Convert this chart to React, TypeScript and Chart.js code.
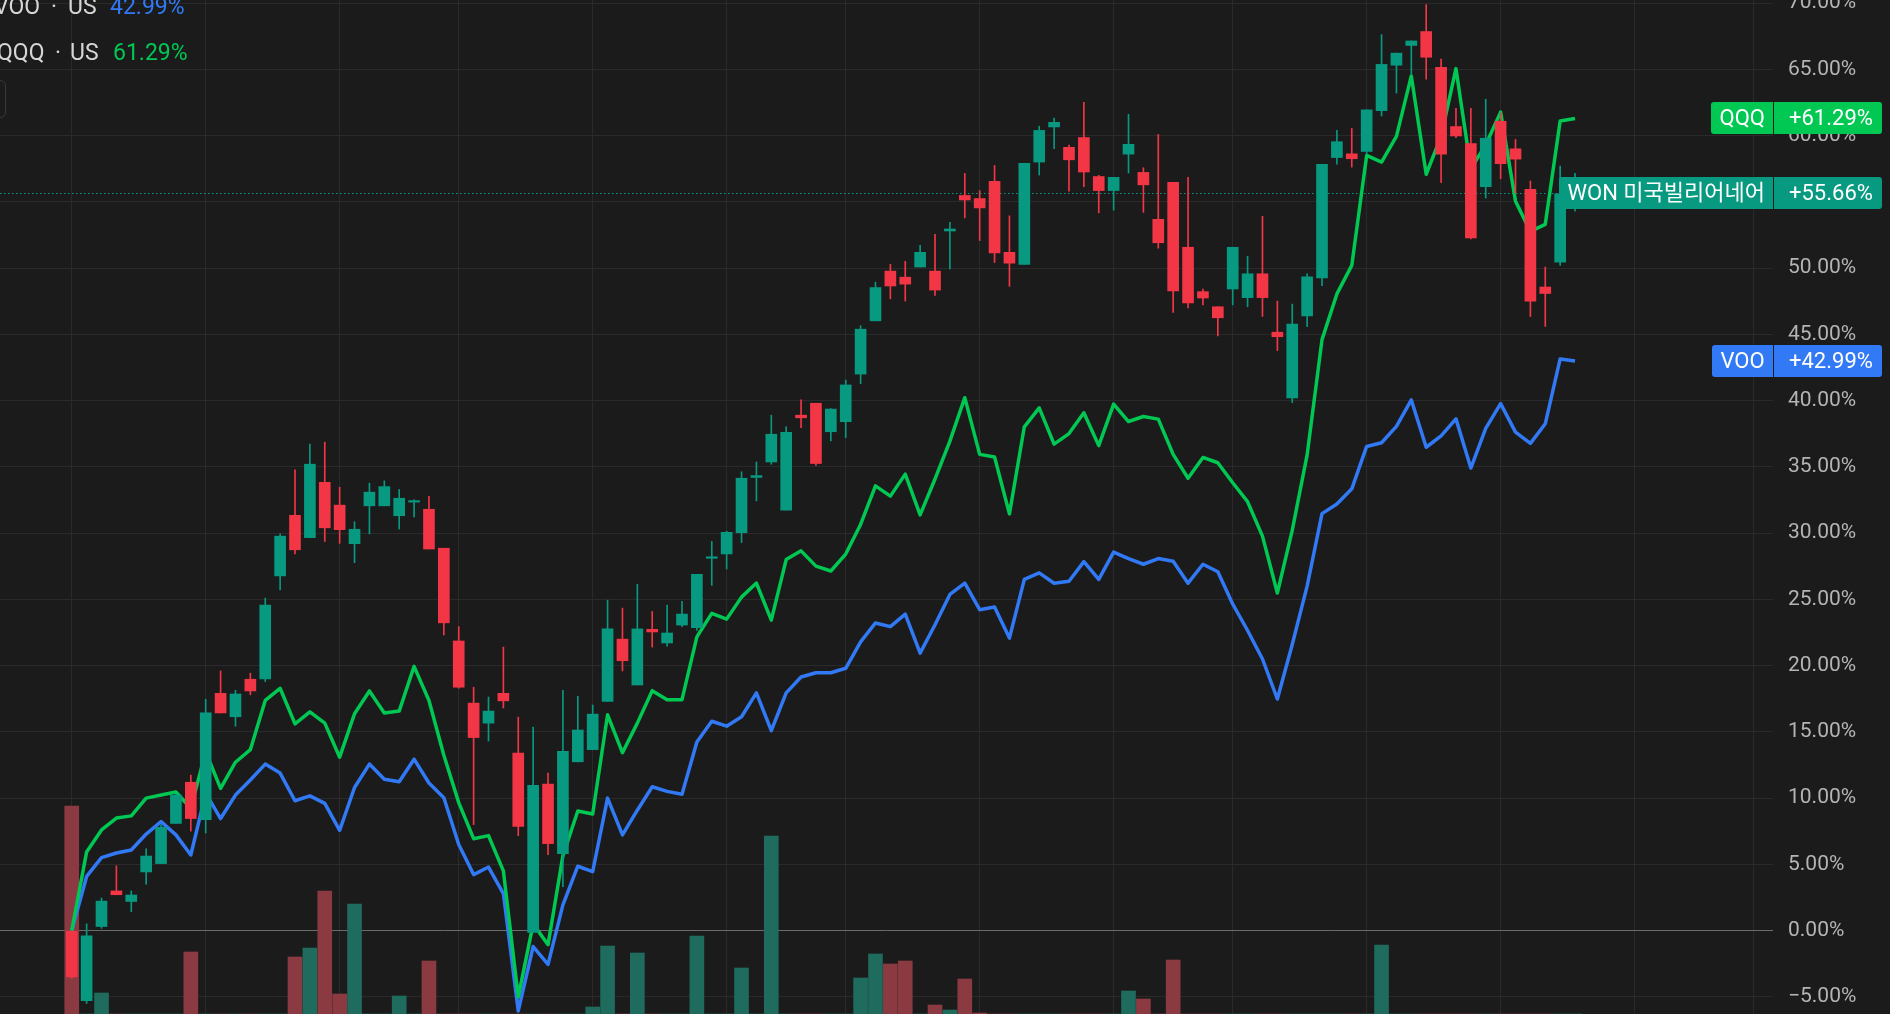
import React, { useEffect, useRef } from 'react';
import { Chart, registerables } from 'chart.js';

Chart.register(...registerables);

// ---------------- data (percent change, weekly bars) ----------------
const candleOpen = [
  0, -5.29, 0.31, 3.0, 2.2, 4.43, 5.06, 8.09, 11.2, 8.37,
  17.91, 16.14, 18.97, 19.0, 26.77, 31.34, 29.66, 33.83, 32.11, 29.2,
  32.06, 32.06, 31.31, 32.34, 31.8, 28.86, 21.86, 17.17, 15.66, 17.91,
  13.4, -0.14, 11.06, 5.8, 12.74, 13.66, 17.29, 22.0, 18.54, 22.74,
  21.71, 23.06, 22.86, 28.1, 28.43, 30.03, 34.2, 35.37, 31.74, 38.9,
  39.8, 37.65, 38.41, 42.0, 46.02, 49.77, 49.31, 50.08, 49.77, 52.8,
  55.48, 55.25, 56.54, 51.19, 50.28, 58.0, 60.65, 59.11, 59.85, 56.91,
  55.85, 58.6, 57.22, 53.68, 56.48, 51.57, 48.22, 47.08, 48.42, 47.77,
  49.57, 45.16, 40.2, 46.39, 49.25, 58.34, 58.62, 58.8, 61.88, 65.31,
  66.8, 67.85, 65.14, 60.68, 59.4, 56.14, 61.08, 59.0, 55.94, 48.57,
  50.45, 55.6,
];
const candleHigh = [
  0, 0.51, 2.46, 4.89, 3.0, 6.17, 8.0, 10.3, 11.74, 17.46,
  19.6, 18.14, 19.43, 25.09, 29.94, 34.77, 36.71, 36.86, 33.46, 30.86,
  33.77, 33.94, 33.29, 32.51, 32.77, 28.86, 22.94, 18.37, 17.63, 21.4,
  16.11, 15.37, 11.89, 18.14, 17.69, 17.03, 24.94, 24.34, 26.14, 24.09,
  24.57, 24.86, 26.89, 29.37, 30.14, 34.63, 35.37, 38.9, 38.03, 40.05,
  39.8, 39.4, 41.55, 45.65, 48.94, 50.28, 50.51, 51.71, 52.54, 53.45,
  57.14, 55.85, 57.74, 53.94, 57.91, 60.71, 61.31, 59.28, 62.5, 57.0,
  56.85, 61.6, 57.57, 60.08, 56.48, 56.85, 48.42, 47.08, 51.57, 50.88,
  53.91, 47.51, 47.28, 49.57, 57.82, 60.39, 60.54, 61.94, 67.62, 66.22,
  67.14, 69.88, 65.77, 62.05, 62.05, 62.74, 61.71, 59.71, 56.57, 50.08,
  57.7, 57.15,
];
const candleLow = [
  -3.6, -5.49, 0.17, 2.71, 1.43, 3.51, 5.06, 8.09, 7.51, 7.37,
  16.43, 15.43, 17.8, 18.8, 25.71, 28.43, 29.66, 29.37, 29.23, 27.77,
  29.94, 32.06, 30.31, 31.23, 28.8, 22.31, 18.29, 8.0, 14.31, 16.8,
  7.17, -0.14, 5.74, 3.31, 12.74, 13.66, 17.29, 19.6, 18.54, 21.4,
  21.46, 22.94, 22.66, 26.06, 27.29, 29.29, 32.43, 35.2, 31.74, 37.96,
  35.1, 36.95, 37.2, 41.27, 46.02, 47.68, 47.51, 50.08, 47.94, 49.94,
  53.79, 52.08, 50.42, 48.62, 50.28, 57.02, 59.02, 55.8, 56.14, 54.17,
  54.37, 57.17, 54.2, 51.5, 46.65, 47.0, 47.22, 44.88, 47.22, 47.08,
  46.35, 43.77, 39.85, 45.57, 48.68, 57.85, 57.62, 58.62, 61.48, 63.2,
  64.65, 64.25, 56.45, 59.85, 52.2, 55.28, 56.74, 55.65, 46.34, 45.6,
  50.2, 54.3,
];
const candleClose = [
  -3.49, -0.4, 2.23, 2.71, 2.69, 5.63, 7.8, 10.23, 8.46, 16.43,
  16.43, 17.86, 18.09, 24.57, 29.77, 28.74, 35.2, 30.4, 30.26, 30.29,
  33.09, 33.51, 32.63, 32.42, 28.8, 23.23, 18.37, 14.57, 16.57, 17.34,
  7.86, 10.97, 6.57, 13.54, 15.14, 16.34, 22.77, 20.37, 22.77, 22.54,
  22.46, 23.89, 26.89, 28.2, 30.06, 34.14, 34.34, 37.46, 37.6, 38.7,
  35.25, 39.36, 41.18, 45.39, 48.53, 48.65, 48.79, 51.19, 48.34, 52.95,
  55.14, 54.54, 51.14, 50.37, 57.91, 60.39, 61.0, 58.17, 57.25, 55.85,
  56.85, 59.34, 56.28, 51.91, 48.28, 47.37, 47.74, 46.25, 51.57, 49.57,
  47.77, 44.82, 45.77, 49.34, 57.82, 59.54, 58.25, 61.94, 65.37, 66.22,
  67.14, 65.91, 58.6, 59.97, 52.28, 59.8, 57.88, 58.22, 47.51, 48.08,
  55.6, 55.66,
];
const qqqPct = [
  0, 5.94, 7.6, 8.5, 8.66, 10.0, 10.23, 10.46, 9.23, 13.5,
  10.74, 12.71, 13.66, 17.37, 18.29, 15.6, 16.51, 15.66, 13.09, 16.37,
  18.09, 16.43, 16.57, 19.94, 17.37, 13.23, 9.66, 6.94, 7.17, 4.51,
  -5.0, 0.51, -1.06, 5.66, 9.03, 8.8, 16.29, 13.43, 15.66, 18.11,
  17.43, 17.43, 22.17, 23.94, 23.51, 25.17, 26.23, 23.43, 28.0, 28.66,
  27.51, 27.14, 28.42, 30.65, 33.56, 32.79, 34.45, 31.37, 34.08, 36.94,
  40.22, 35.94, 35.74, 31.45, 38.02, 39.45, 36.71, 37.51, 39.08, 36.6,
  39.74, 38.42, 38.8, 38.6, 35.94, 34.14, 35.71, 35.31, 33.8, 32.37,
  29.77, 25.48, 30.2, 35.9, 44.6, 48.05, 50.2, 58.5, 58.0, 59.94,
  64.5, 57.08, 59.94, 65.05, 57.5, 59.3, 61.77, 55.05, 52.77, 53.3,
  61.1, 61.29,
];
const vooPct = [
  0, 4.09, 5.51, 5.86, 6.09, 7.29, 8.23, 7.23, 5.71, 10.37,
  8.46, 10.23, 11.37, 12.57, 11.89, 9.8, 10.17, 9.6, 7.57, 10.8,
  12.57, 11.43, 11.23, 12.94, 11.14, 10.03, 6.5, 4.23, 4.8, 2.8,
  -6.06, -1.2, -2.54, 1.94, 4.86, 4.46, 10.0, 7.23, 9.09, 10.86,
  10.51, 10.29, 14.23, 15.8, 15.43, 16.14, 17.94, 15.09, 17.94, 19.14,
  19.46, 19.46, 19.8, 21.79, 23.22, 22.94, 23.88, 20.94, 23.08, 25.37,
  26.22, 24.22, 24.42, 22.08, 26.51, 27.0, 26.22, 26.37, 27.85, 26.51,
  28.57, 28.08, 27.65, 28.08, 27.88, 26.22, 27.65, 27.08, 24.65, 22.65,
  20.5, 17.48, 21.6, 26.0, 31.47, 32.19, 33.34, 36.54, 36.82, 38.05,
  40.05, 36.48, 37.34, 38.62, 34.91, 37.91, 39.77, 37.62, 36.77, 38.25,
  43.14, 42.99,
];
// visible volume (arbitrary units); bars not visible in the picture are 0
const volume = [
  208, 0, 21, 0, 0, 0, 0, 0, 62, 0,
  0, 0, 0, 0, 0, 57, 66, 123, 20, 110,
  0, 0, 18, 0, 53, 0, 0, 0, 0, 0,
  0, 0, 0, 0, 0, 7, 68, 0, 61, 0,
  0, 0, 78, 0, 0, 46, 0, 178, 0, 0,
  0, 0, 0, 36, 60, 50, 53, 0, 9, 4,
  35, 1, 0, 0, 0, 0, 0, 0, 0, 0,
  0, 23, 15, 0, 54, 0, 0, 0, 0, 0,
  0, 0, 0, 0, 0, 0, 0, 0, 69, 0,
  0, 0, 0, 0, 0, 0, 0, 0, 0, 0,
  0, 0,
];
const yTickValues = [-5, 0, 5, 10, 15, 20, 25, 30, 35, 40, 45, 50, 55, 60, 65, 70];
const xGridIndex = [0, 9, 18, 26, 35, 44, 52, 61, 70, 78, 87, 96, 105, 113];

const NAME_WON = 'WON 미국빌리어네어';
const NAME_QQQ = 'QQQ';
const NAME_VOO = 'VOO';
const EXCHANGE = 'US';

// ---------------- styles ----------------
const BG = '#1b1b1b';
const GRID = '#2a2a2a';
const ZERO = '#6c6c6c';
const TEXT = '#b4b4b4';
const UP = '#089981';
const DOWN = '#f23645';
const UP_VOL = '#1f6b5d';
const DOWN_VOL = '#8c3a41';
const QQQ_COLOR = '#00c853';
const VOO_COLOR = '#3179f5';
const FONT = 'Roboto, "Noto Sans CJK KR", sans-serif';

const X_MIN = -4.82;
const X_MAX = 114.3;
const Y_MIN = -6.29;
const Y_MAX = 70.23;

const last = (a: number[]) => a[a.length - 1];
const fmtPct = (v: number) => (v < 0 ? '\u2212' : '') + Math.abs(v).toFixed(2) + '%';
const fmtSigned = (v: number) => (v >= 0 ? '+' : '\u2212') + Math.abs(v).toFixed(2) + '%';

function roundRect(ctx: CanvasRenderingContext2D, x: number, y: number, w: number, h: number, r: number[]) {
  ctx.beginPath();
  if ((ctx as any).roundRect) (ctx as any).roundRect(x, y, w, h, r);
  else ctx.rect(x, y, w, h);
  ctx.fill();
}

const overlayPlugin = {
  id: 'overlayLabels',
  beforeDatasetsDraw(chart: any) {
    const { ctx, chartArea, scales } = chart;
    const y = Math.round(scales.y.getPixelForValue(last(candleClose))) + 0.5;
    ctx.save();
    ctx.strokeStyle = UP;
    ctx.lineWidth = 1;
    ctx.setLineDash([1.5, 2.5]);
    ctx.beginPath();
    ctx.moveTo(chartArea.left, y);
    ctx.lineTo(chartArea.right, y);
    ctx.stroke();
    ctx.restore();
  },
  afterDraw(chart: any) {
    const { ctx, chartArea, scales } = chart;
    const labels = [
      { name: NAME_QQQ, value: last(qqqPct), color: QQQ_COLOR },
      { name: NAME_WON, value: last(candleClose), color: UP },
      { name: NAME_VOO, value: last(vooPct), color: VOO_COLOR },
    ];
    ctx.save();
    ctx.font = '22px ' + FONT;
    ctx.textBaseline = 'middle';
    ctx.textAlign = 'left';
    for (const l of labels) {
      const yc = scales.y.getPixelForValue(l.value);
      const h = 32;
      const top = Math.round(yc - h / 2);
      const tw = ctx.measureText(l.name).width;
      const left = Math.round(chartArea.right - tw - 17);
      ctx.fillStyle = l.color;
      roundRect(ctx, left, top, chartArea.right - left, h, [3, 0, 0, 3]);
      const rx = chartArea.right + 1;
      roundRect(ctx, rx, top, chart.width - 8 - rx, h, [0, 3, 3, 0]);
      ctx.fillStyle = '#ffffff';
      ctx.fillText(l.name, left + 8.5, top + h / 2 + 1);
      ctx.fillText(fmtSigned(l.value), chartArea.right + 16, top + h / 2 + 1);
    }
    ctx.restore();
  },
};

function LegendRow(props: { top: number; name: string; value: number; color: string; nameLeft: number; dotLeft: number; exLeft: number; valLeft: number }) {
  const base: React.CSSProperties = { position: 'absolute', top: 0, whiteSpace: 'nowrap' };
  return (
    <div style={{ position: 'absolute', left: 0, top: props.top, height: 23, width: 260, fontSize: 23, lineHeight: '23px', fontFamily: FONT, color: '#d6d6d6' }}>
      <span style={{ ...base, left: props.nameLeft }}>{props.name}</span>
      <span style={{ ...base, left: props.dotLeft }}>·</span>
      <span style={{ ...base, left: props.exLeft }}>{EXCHANGE}</span>
      <span style={{ ...base, left: props.valLeft, color: props.color }}>{fmtPct(props.value)}</span>
    </div>
  );
}

export default function App() {
  const ref = useRef<HTMLCanvasElement>(null);

  useEffect(() => {
    document.body.style.margin = '0';
    document.body.style.background = BG;
    document.body.style.overflow = 'hidden';
    const idx = candleOpen.map((_, i) => i);
    const isUp = idx.map((i) => candleClose[i] >= candleOpen[i]);
    const chart = new Chart(ref.current as HTMLCanvasElement, {
      type: 'line',
      data: {
        datasets: [
          {
            type: 'bar',
            label: NAME_WON,
            data: idx.map((i) => ({ x: i, y: [candleOpen[i], candleClose[i]] })),
            backgroundColor: isUp.map((u) => (u ? UP : DOWN)),
            borderWidth: 0,
            barThickness: 11,
            minBarLength: 1.5,
            grouped: false,
            yAxisID: 'y',
            order: 0,
          } as any,
          {
            type: 'bar',
            label: NAME_WON + ' wick',
            data: idx.map((i) => ({ x: i, y: [candleLow[i], candleHigh[i]] })),
            backgroundColor: isUp.map((u) => (u ? UP : DOWN)),
            borderWidth: 0,
            barThickness: 1,
            grouped: false,
            yAxisID: 'y',
            order: 1,
          } as any,
          {
            type: 'line',
            label: NAME_QQQ,
            data: qqqPct.map((v, i) => ({ x: i, y: v })),
            borderColor: QQQ_COLOR,
            borderWidth: 3.5,
            pointRadius: 0,
            tension: 0,
            borderJoinStyle: 'round',
            yAxisID: 'y',
            order: 2,
          } as any,
          {
            type: 'line',
            label: NAME_VOO,
            data: vooPct.map((v, i) => ({ x: i, y: v })),
            borderColor: VOO_COLOR,
            borderWidth: 3.5,
            pointRadius: 0,
            tension: 0,
            borderJoinStyle: 'round',
            yAxisID: 'y',
            order: 3,
          } as any,
          {
            type: 'bar',
            label: 'Volume',
            data: volume.map((v, i) => ({ x: i, y: v })),
            backgroundColor: isUp.map((u) => (u ? UP_VOL : DOWN_VOL)),
            borderWidth: 0,
            barThickness: 14,
            grouped: false,
            yAxisID: 'yVol',
            order: 4,
          } as any,
        ],
      },
      options: {
        responsive: false,
        animation: false,
        events: [],
        layout: { padding: 0 },
        plugins: { legend: { display: false }, tooltip: { enabled: false } },
        scales: {
          x: {
            type: 'linear',
            min: X_MIN,
            max: X_MAX,
            offset: false,
            grid: { color: GRID, offset: false, drawTicks: false, lineWidth: 1 },
            border: { display: false },
            ticks: { display: false },
            afterBuildTicks: (s: any) => {
              s.ticks = xGridIndex.map((v) => ({ value: v }));
            },
            afterFit: (s: any) => {
              s.height = 0;
              s.paddingLeft = 0;
              s.paddingRight = 0;
            },
          },
          y: {
            type: 'linear',
            position: 'right',
            min: Y_MIN,
            max: Y_MAX,
            grid: {
              color: (c: any) => (c.tick && c.tick.value === 0 ? ZERO : GRID),
              drawTicks: false,
              lineWidth: 1,
            },
            border: { display: false },
            ticks: {
              color: TEXT,
              font: { family: FONT, size: 21 },
              padding: 15,
              autoSkip: false,
              callback: (v: any) => fmtPct(Number(v)),
            },
            afterBuildTicks: (s: any) => {
              s.ticks = yTickValues.map((v) => ({ value: v }));
            },
            afterFit: (s: any) => {
              s.width = 117;
              s.paddingTop = 0;
              s.paddingBottom = 0;
            },
          },
          yVol: {
            type: 'linear',
            display: false,
            min: 0,
            max: 1014,
            afterFit: (s: any) => {
              s.paddingTop = 0;
              s.paddingBottom = 0;
            },
          },
        },
      } as any,
      plugins: [overlayPlugin as any],
    });
    return () => chart.destroy();
  }, []);

  return (
    <div style={{ position: 'relative', width: 1890, height: 1014, background: BG, overflow: 'hidden' }}>
      <canvas ref={ref} width={1890} height={1014} style={{ display: 'block', width: 1890, height: 1014 }} />
      <LegendRow top={-5} name={NAME_VOO} value={last(vooPct)} color={VOO_COLOR} nameLeft={-6} dotLeft={51} exLeft={68} valLeft={110} />
      <LegendRow top={41} name={NAME_QQQ} value={last(qqqPct)} color={QQQ_COLOR} nameLeft={-3} dotLeft={55} exLeft={70} valLeft={113} />
      <div style={{ position: 'absolute', left: -30, top: 80, width: 36, height: 38, border: '1px solid #3a3a3a', borderRadius: 6, boxSizing: 'border-box' }} />
    </div>
  );
}
